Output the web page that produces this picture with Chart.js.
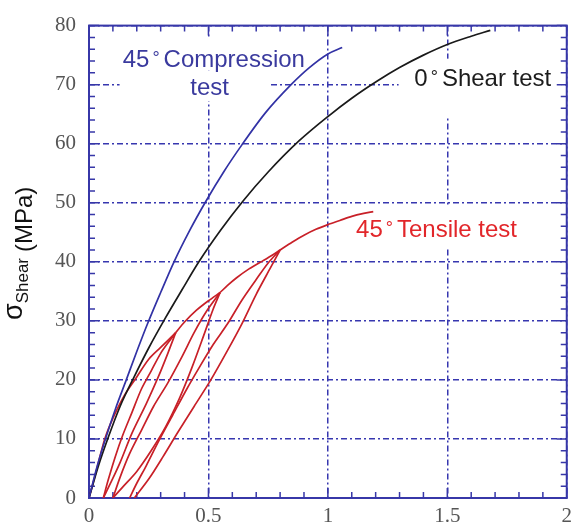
<!DOCTYPE html>
<html><head><meta charset="utf-8">
<script src="https://cdn.jsdelivr.net/npm/chart.js@4.4.0/dist/chart.umd.min.js"></script>
<style>html,body{margin:0;padding:0;background:#fff}canvas{display:block}</style>
</head><body>
<canvas id="c" width="578" height="528"></canvas>
<script>
// ---- axis ticks ----
const xTicks = [0, 0.5, 1, 1.5, 2];
const xTickLabels = ["0", "0.5", "1", "1.5", "2"];
const yTicks = [0, 10, 20, 30, 40, 50, 60, 70, 80];

// ---- 45° compression test (blue) ----
const compX = [0, 0.035, 0.069, 0.11, 0.156, 0.2, 0.245, 0.3, 0.356, 0.42, 0.49, 0.565, 0.64, 0.74, 0.846, 0.92, 1.0, 1.06];
const compY = [0, 5.5, 10, 15, 20, 24.8, 29.5, 34.8, 40, 45.2, 50.3, 55.3, 59.8, 65.3, 70, 72.8, 75.2, 76.3];

// ---- 0° shear test (black) ----
const shearX = [0, 0.04, 0.08, 0.13, 0.19, 0.25, 0.32, 0.39, 0.46, 0.55, 0.645, 0.75, 0.88, 1.0, 1.1, 1.21, 1.3, 1.4, 1.5, 1.6, 1.68];
const shearY = [0, 5.5, 10.2, 15.5, 20.6, 25.4, 30.5, 35.3, 40, 45.3, 50.3, 55.2, 60.5, 64.6, 67.7, 70.7, 72.9, 75, 76.8, 78.2, 79.2];

// ---- 45° tensile test with unload/reload cycles (red) ----
const tensX = [
  0, 0.03, 0.066, 0.1, 0.15, 0.2, 0.25, 0.3, 0.363,
  0.33, 0.29, 0.24, 0.18, 0.13, 0.09, 0.06,
  0.08, 0.11, 0.14, 0.18, 0.22, 0.26, 0.30, 0.335, 0.363,
  0.40, 0.45, 0.50, 0.549,
  0.52, 0.48, 0.43, 0.38, 0.32, 0.26, 0.2, 0.14, 0.10,
  0.13, 0.17, 0.22, 0.27, 0.33, 0.39, 0.44, 0.49, 0.549,
  0.58, 0.618, 0.67, 0.729, 0.77, 0.80,
  0.76, 0.70, 0.64, 0.58, 0.51, 0.44, 0.37, 0.31, 0.25, 0.19,
  0.17, 0.2, 0.24, 0.29, 0.35, 0.41, 0.46, 0.52, 0.58, 0.64, 0.70, 0.75, 0.80,
  0.85, 0.9, 0.95, 1.0, 1.05, 1.1, 1.15, 1.19
];
const tensY = [
  0, 4.5, 10, 13.5, 17.5, 20.5, 23.5, 25.5, 28,
  24.5, 20.5, 16, 11, 6, 2.5, 0,
  3, 7, 10.5, 14.5, 18.5, 21.5, 24.5, 26.5, 28,
  29.8, 31.8, 33.4, 34.8,
  32, 27.5, 22, 17, 12, 8, 4.5, 1.8, 0,
  3.5, 7.5, 11.5, 15.5, 19.5, 24, 28, 31.5, 34.8,
  36, 37.3, 38.8, 40.2, 41.2, 42,
  39, 34.5, 29.5, 25, 20, 15.5, 11, 7, 3.2, 0,
  0, 2.5, 5.5, 9.5, 14, 18.5, 22, 26, 29.5, 33.5, 37, 39.8, 42,
  43.3, 44.5, 45.5, 46.3, 47.0, 47.7, 48.2, 48.5
];
// branch boundaries (indices into tensX/tensY): loading, unloading and reloading branches
const tensBranches = [[0, 8], [8, 15], [15, 24], [24, 28], [28, 37], [37, 46], [46, 52], [52, 62], [63, 75], [75, 83]];

const toPts = (xs, ys) => xs.map((v, i) => ({x: v, y: ys[i]}));

const AXIS = 'rgb(55,55,168)';
const GRID = 'rgb(55,55,175)';
const RED = 'rgb(200,32,40)';

// annotation placement (data units)
const notes = {
  comp1: {x: 0.141, y: 73.0}, comp2: {x: 0.505, y: 68.2},
  shear: {x: 1.362, y: 69.7}, tens: {x: 1.118, y: 44.15}
};
const boxes = [
  [0.128, 0.915, 77.8, 72.4],
  [0.128, 0.762, 72.4, 67.2],
  [1.296, 1.979, 74.4, 64.4],
  [1.08, 1.867, 49.5, 42.3]
];

function drawDegLabel(ctx, x, y, pre, post, color) {
  ctx.fillStyle = color;
  ctx.textBaseline = 'alphabetic';
  ctx.textAlign = 'left';
  ctx.font = '24px "Liberation Sans", Arial, sans-serif';
  ctx.fillText(pre, x, y);
  let cx = x + ctx.measureText(pre).width + 3;
  ctx.font = '18px "Liberation Sans", Arial, sans-serif';
  ctx.fillText('°', cx, y - 3);
  cx += ctx.measureText('°').width + 4;
  ctx.font = '24px "Liberation Sans", Arial, sans-serif';
  ctx.fillText(post, cx, y);
}

const decor = {
  id: 'decor',
  beforeDatasetsDraw(chart) {
    const {ctx, chartArea: a, scales: {x, y}} = chart;
    ctx.save();
    ctx.fillStyle = '#fff';
    boxes.forEach(b => {
      const x0 = x.getPixelForValue(b[0]), x1 = x.getPixelForValue(b[1]);
      const y0 = y.getPixelForValue(b[2]), y1 = y.getPixelForValue(b[3]);
      ctx.fillRect(x0, y0, x1 - x0, y1 - y0);
    });
    ctx.strokeStyle = AXIS;
    ctx.lineWidth = 1.5;
    ctx.beginPath();
    for (let i = 0; i <= 20; i++) {
      const px = x.getPixelForValue(i / 10);
      const len = (i % 5 === 0) ? 10 : 6;
      ctx.moveTo(px, a.bottom); ctx.lineTo(px, a.bottom - len);
      ctx.moveTo(px, a.top); ctx.lineTo(px, a.top + len);
    }
    for (let i = 0; i <= 40; i++) {
      const py = y.getPixelForValue(i * 2);
      const len = (i % 5 === 0) ? 10 : 6;
      ctx.moveTo(a.left, py); ctx.lineTo(a.left + len, py);
      ctx.moveTo(a.right, py); ctx.lineTo(a.right - len, py);
    }
    ctx.stroke();
    ctx.lineWidth = 2;
    ctx.strokeRect(a.left, a.top, a.right - a.left, a.bottom - a.top);
    drawDegLabel(ctx, x.getPixelForValue(notes.comp1.x), y.getPixelForValue(notes.comp1.y), '45', 'Compression', 'rgb(58,58,158)');
    ctx.font = '24px "Liberation Sans", Arial, sans-serif';
    ctx.textAlign = 'center';
    ctx.fillStyle = 'rgb(58,58,158)';
    ctx.fillText('test', x.getPixelForValue(notes.comp2.x), y.getPixelForValue(notes.comp2.y));
    drawDegLabel(ctx, x.getPixelForValue(notes.shear.x), y.getPixelForValue(notes.shear.y), '0', 'Shear test', '#1c1c1c');
    drawDegLabel(ctx, x.getPixelForValue(notes.tens.x), y.getPixelForValue(notes.tens.y), '45', 'Tensile test', 'rgb(226,38,42)');
    ctx.restore();
  },
  afterDraw(chart) {
    const {ctx} = chart;
    ctx.save();
    ctx.fillStyle = '#111';
    ctx.textBaseline = 'alphabetic';
    ctx.textAlign = 'left';
    ctx.translate(22, 320);
    ctx.rotate(-Math.PI / 2);
    ctx.font = '27px "Liberation Sans", Arial, sans-serif';
    ctx.fillText('σ', 0, 0);
    let cx = ctx.measureText('σ').width;
    ctx.font = '17px "Liberation Sans", Arial, sans-serif';
    ctx.fillText('Shear', cx, 6);
    cx += ctx.measureText('Shear').width + 6;
    ctx.font = '24px "Liberation Sans", Arial, sans-serif';
    ctx.fillText('(MPa)', cx, 10);
    ctx.restore();
  }
};

const lineStyle = {showLine: true, pointRadius: 0, borderWidth: 1.7, fill: false};
const datasets = [
  Object.assign({label: '45° Compression test', data: toPts(compX, compY), borderColor: 'rgb(50,50,165)', cubicInterpolationMode: 'monotone'}, lineStyle),
  Object.assign({label: '0° Shear test', data: toPts(shearX, shearY), borderColor: '#1a1a1a', cubicInterpolationMode: 'monotone'}, lineStyle)
];
tensBranches.forEach(([s, e], k) => {
  datasets.push(Object.assign({
    label: k === 0 ? '45° Tensile test' : '',
    data: toPts(tensX.slice(s, e + 1), tensY.slice(s, e + 1)),
    borderColor: RED, tension: 0.3
  }, lineStyle));
});

new Chart(document.getElementById('c'), {
  type: 'scatter',
  data: {datasets},
  options: {
    responsive: false,
    animation: false,
    events: [],
    layout: {padding: {top: 16, right: 6, left: 0, bottom: 0}},
    plugins: {legend: {display: false}, tooltip: {enabled: false}},
    scales: {
      x: {
        type: 'linear', min: 0, max: 2,
        afterBuildTicks: s => { s.ticks = xTicks.map(v => ({value: v})); },
        afterFit: s => { s.height = 30; },
        ticks: {
          callback: (v) => { const i = xTicks.indexOf(v); return i >= 0 ? xTickLabels[i] : ''; },
          color: '#555', padding: 6, maxRotation: 0, autoSkip: false,
          font: {family: '"Liberation Serif", "Times New Roman", serif', size: 21}
        },
        grid: {color: GRID, lineWidth: 1.5, drawTicks: false},
        border: {display: false, dash: [6, 3, 2, 3]}
      },
      y: {
        type: 'linear', min: 0, max: 80,
        afterBuildTicks: s => { s.ticks = yTicks.map(v => ({value: v})); },
        afterFit: s => { s.width = 89; },
        ticks: {
          color: '#555', padding: 13, autoSkip: false,
          font: {family: '"Liberation Serif", "Times New Roman", serif', size: 21}
        },
        grid: {color: GRID, lineWidth: 1.5, drawTicks: false},
        border: {display: false, dash: [6, 3, 2, 3]}
      }
    }
  },
  plugins: [decor]
});
</script>
</body></html>
